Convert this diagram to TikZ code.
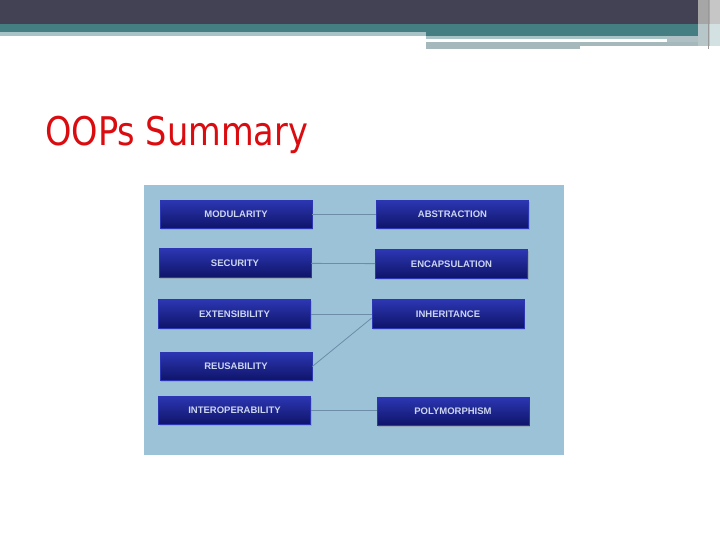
\documentclass[tikz,border=0pt]{standalone}
\usepackage{fontspec}
\usepackage{xcolor}
\usepackage{tikz}
\usetikzlibrary{shadows}
\newfontfamily\titlefont[FakeStretch=0.85]{DejaVu Sans}
\newfontfamily\boxfont{Liberation Sans}
\definecolor{bandDark}{RGB}{66,66,84}
\definecolor{bandTeal}{RGB}{68,126,130}
\definecolor{bandLight}{RGB}{167,195,198}
\definecolor{bandGray}{RGB}{165,185,188}
\definecolor{titleRed}{RGB}{218,12,16}
\definecolor{panelBlue}{RGB}{156,194,216}
\definecolor{boxTop}{RGB}{44,54,178}
\definecolor{boxMid}{RGB}{28,34,156}
\definecolor{boxBottom}{RGB}{14,20,104}
\definecolor{boxText}{RGB}{205,214,240}
\definecolor{linkGray}{RGB}{108,140,168}
\tikzstyle{oopbox} = [rectangle, 
minimum width=152pt, 
minimum height=28.5pt, 
inner sep=0pt,
text centered, 
draw=boxTop, 
line width=0.6pt,
top color=boxTop, 
middle color=boxMid, 
bottom color=boxBottom,
drop shadow={shadow xshift=1.2pt, shadow yshift=-1.5pt, opacity=0.35},
text=boxText, 
font=\boxfont\bfseries\fontsize{9.5}{11}\selectfont]
\tikzstyle{link} = [linkGray, line width=0.8pt]
\begin{document}
\begin{tikzpicture}[x=1pt,y=-1pt]
\useasboundingbox (0,0) rectangle (720,540);
\fill[white] (0,0) rectangle (720,540);

% header band
\fill[bandDark] (0,0) rectangle (720,24);
\fill[bandTeal] (0,24) rectangle (698,32);
\fill[bandLight] (0,32) rectangle (426,36);
\fill[bandTeal] (426,32) rectangle (698,36);
\fill[bandLight] (426,36) rectangle (667,39);
\fill[bandGray!90] (667,36) rectangle (698,46);
\fill[bandGray] (426,42) rectangle (580,49);
\fill[bandGray] (580,42) rectangle (698,46);
\fill[gray!70] (698,0) rectangle (710,24);
\fill[bandGray!80] (698,24) rectangle (710,46);
\fill[gray!45] (710,0) rectangle (720,24);
\fill[bandLight!50] (710,24) rectangle (720,46);
\draw[gray!80, line width=1pt] (708.5,0) -- (708.5,49);

% title
\node (title) [anchor=base west, inner sep=0pt, text=titleRed,
  font=\titlefont\fontsize{39.5}{44}\selectfont] at (45,146) {OOPs Summary};

% panel
\fill[panelBlue] (144,185) rectangle (564,455);

\node (modularity) [oopbox] at (236,214.5) {MODULARITY};
\node (security) [oopbox] at (235,263) {SECURITY};
\node (extensibility) [oopbox] at (234.5,314) {EXTENSIBILITY};
\node (reusability) [oopbox] at (236,366.5) {REUSABILITY};
\node (interop) [oopbox] at (234.5,410.5) {INTEROPERABILITY};
\node (abstraction) [oopbox] at (452.5,214.5) {ABSTRACTION};
\node (encapsulation) [oopbox] at (451.5,264) {ENCAPSULATION};
\node (inheritance) [oopbox] at (448,314) {INHERITANCE};
\node (polymorphism) [oopbox] at (453,411.5) {POLYMORPHISM};

\draw [link] (modularity) -- (abstraction);
\draw [link] (security) -- (encapsulation);
\draw [link] (extensibility) -- (inheritance);
\draw [link] (reusability.east) -- ([yshift=-4pt]inheritance.west);
\draw [link] (interop.east) -- (interop.east -| polymorphism.west);

\end{tikzpicture}
\end{document}
